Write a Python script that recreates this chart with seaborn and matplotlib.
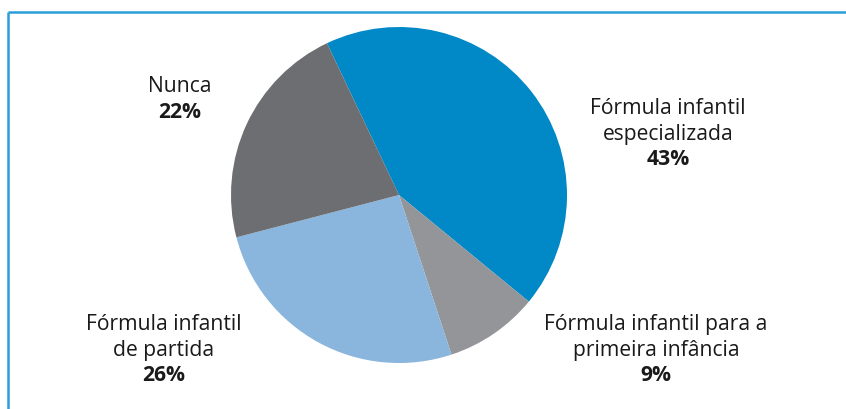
import matplotlib.pyplot as plt
import seaborn as sns

sns.set_theme(style="white")
plt.rcParams["font.family"] = ["Open Sans", "DejaVu Sans"]

# dados
categorias = ["Fórmula infantil\nespecializada", "Fórmula infantil para a\nprimeira infância",
              "Fórmula infantil\nde partida", "Nunca"]
valores = [43, 9, 26, 22]
cores = ["#0088c7", "#939598", "#8ab5dd", "#6d6e71"]
# posição dos rótulos (px, centro da primeira linha)
pos_rotulos = [(668, 109), (656, 325), (164, 325), (180, 87)]

W, H = 846, 410
fig = plt.figure(figsize=(W / 100, H / 100), dpi=100)
ax = fig.add_axes([0, 0, 1, 1])

# pizza: eixo y invertido, então counterclock=True equivale a horário na tela
ax.pie(valores, colors=cores, startangle=-115.4, counterclock=True,
       center=(399, 196), radius=168, wedgeprops={"linewidth": 0},
       frame=True)
ax.set_xlim(0, W)
ax.set_ylim(H, 0)
ax.axis("off")

# moldura azul (topo e esquerda)
ax.plot([8, W], [13, 13], color="#2a9fd6", lw=1.8, solid_capstyle="butt")
ax.plot([8, 8], [13, H], color="#2a9fd6", lw=1.8, solid_capstyle="butt")

linha = 25.5
for cat, v, (x, y) in zip(categorias, valores, pos_rotulos):
    linhas = cat.split("\n")
    for i, t in enumerate(linhas):
        ax.text(x, y + i * linha, t, ha="center", va="center", fontsize=15.2,
                color="#1a1a1a")
    ax.text(x, y + len(linhas) * linha, f"{v}%", ha="center", va="center",
            fontsize=15.2, fontweight="bold", color="#1a1a1a")

fig.savefig("out.png", dpi=100)
